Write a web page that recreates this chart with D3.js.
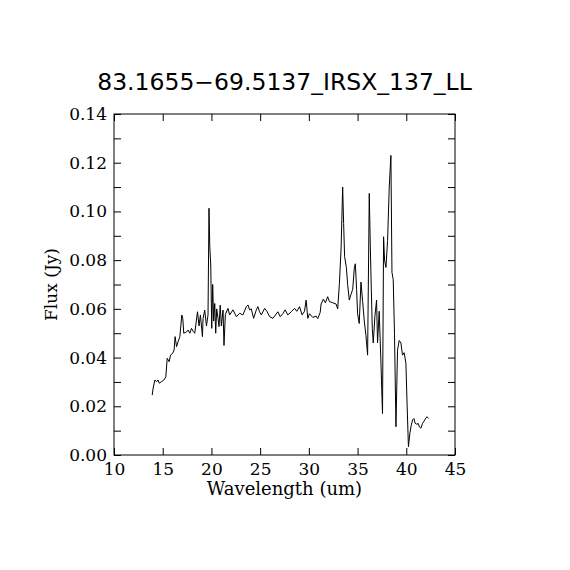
<!DOCTYPE html>
<html>
<head>
<meta charset="utf-8">
<script src="https://cdn.jsdelivr.net/npm/d3@7"></script>
<style>
  body { margin: 0; background: #fff; }
  svg { display: block; }
</style>
</head>
<body>
<div id="chart"></div>
<script>
// titre et étiquettes
const title = "83.1655\u221269.5137_IRSX_137_LL";
const xLabel = "Wavelength (um)";
const yLabel = "Flux (Jy)";

// graduations
const xTicks = [10, 15, 20, 25, 30, 35, 40, 45];
const yTicks = [0, 0.01, 0.02, 0.03, 0.04, 0.05, 0.06, 0.07, 0.08, 0.09, 0.10, 0.11, 0.12, 0.13, 0.14];
const yLabelled = [0, 0.02, 0.04, 0.06, 0.08, 0.10, 0.12, 0.14];

// spectre : longueur d'onde (um) et flux (Jy)
const wavelength = [
  13.92, 14.02, 14.20, 14.37, 14.53, 14.64, 14.88, 15.12, 15.32, 15.46,
  15.66, 15.80, 16.01, 16.17, 16.27, 16.42, 16.58, 16.76, 16.96, 17.06,
  17.16, 17.44, 17.61, 17.78, 17.95, 18.12, 18.29, 18.46, 18.57, 18.73,
  18.87, 19.08, 19.14, 19.31, 19.49, 19.65, 19.75, 19.83, 19.93, 20.03,
  20.13, 20.23, 20.34, 20.44, 20.54, 20.68, 20.78, 20.90, 21.02, 21.19,
  21.29, 21.43, 21.70, 21.87, 22.21, 22.56, 22.90, 23.23, 23.58, 23.75,
  23.92, 24.09, 24.33, 24.61, 24.77, 24.94, 25.12, 25.46, 25.69, 25.97,
  26.31, 26.58, 26.82, 27.06, 27.33, 27.57, 27.84, 28.19, 28.53, 28.76,
  29.04, 29.31, 29.55, 29.72, 29.89, 30.06, 30.40, 30.75, 30.91, 31.16,
  31.26, 31.49, 31.70, 31.93, 32.11, 32.45, 32.79, 32.96, 33.13, 33.31,
  33.47, 33.57, 33.67, 33.85, 33.98, 34.15, 34.33, 34.50, 34.67, 34.77,
  34.90, 35.00, 35.17, 35.35, 35.52, 35.69, 35.86, 36.03, 36.20, 36.31,
  36.41, 36.51, 36.61, 36.78, 36.95, 37.05, 37.22, 37.40, 37.56, 37.67,
  37.77, 37.91, 38.08, 38.25, 38.42, 38.53, 38.66, 38.79, 38.94, 39.10,
  39.27, 39.45, 39.61, 39.78, 39.96, 40.09, 40.22, 40.37, 40.50, 40.64,
  40.78, 40.91, 41.09, 41.22, 41.35, 41.50, 41.67, 41.84, 42.01, 42.14,
  42.27
];
const flux = [
  0.0246, 0.0275, 0.0308, 0.0301, 0.0308, 0.0295, 0.0301, 0.0308, 0.0321, 0.0397,
  0.0383, 0.0410, 0.0417, 0.0431, 0.0486, 0.0445, 0.0465, 0.0486, 0.0575, 0.0560,
  0.0500, 0.0505, 0.0513, 0.0500, 0.0520, 0.0508, 0.0500, 0.0554, 0.0588, 0.0530,
  0.0575, 0.0486, 0.0560, 0.0595, 0.0530, 0.0575, 0.1013, 0.0855, 0.0780, 0.0520,
  0.0700, 0.0550, 0.0622, 0.0500, 0.0600, 0.0560, 0.0527, 0.0615, 0.0530, 0.0595,
  0.0450, 0.0577, 0.0602, 0.0575, 0.0596, 0.0568, 0.0582, 0.0575, 0.0609, 0.0616,
  0.0596, 0.0600, 0.0561, 0.0596, 0.0609, 0.0588, 0.0575, 0.0602, 0.0590, 0.0568,
  0.0561, 0.0575, 0.0588, 0.0568, 0.0580, 0.0596, 0.0575, 0.0588, 0.0602, 0.0590,
  0.0609, 0.0575, 0.0590, 0.0636, 0.0561, 0.0580, 0.0565, 0.0570, 0.0560, 0.0585,
  0.0620, 0.0640, 0.0625, 0.0650, 0.0630, 0.0625, 0.0620, 0.0600, 0.0700, 0.0850,
  0.1100, 0.0950, 0.0814, 0.0770, 0.0700, 0.0636, 0.0660, 0.0680, 0.0770, 0.0785,
  0.0680, 0.0580, 0.0540, 0.0710, 0.0630, 0.0550, 0.0490, 0.0410, 0.1074, 0.0850,
  0.0680, 0.0520, 0.0460, 0.0570, 0.0636, 0.0460, 0.0590, 0.0377, 0.0170, 0.0896,
  0.0800, 0.0770, 0.0880, 0.1100, 0.1230, 0.0750, 0.0720, 0.0500, 0.0116, 0.0430,
  0.0470, 0.0460, 0.0410, 0.0420, 0.0377, 0.0198, 0.0034, 0.0090, 0.0120, 0.0144,
  0.0150, 0.0130, 0.0126, 0.0130, 0.0115, 0.0110, 0.0130, 0.0140, 0.0152, 0.0157,
  0.0150
];

function drawChart() {
    // dimensions
    const width = 570;
    const height = 570;
    const margin = { top: 114, right: 115, bottom: 115, left: 114 };
    const innerW = width - margin.left - margin.right;
    const innerH = height - margin.top - margin.bottom;
    const tickLen = 7;
    const serif = "'DejaVu Serif', 'Liberation Serif', serif";

    const data = wavelength.map((w, i) => ({ w: w, f: flux[i] }));

    const svg = d3.select("#chart")
        .append("svg")
        .attr("width", width)
        .attr("height", height);

    const g = svg.append("g")
        .attr("transform", `translate(${margin.left},${margin.top})`);

    // échelles
    const x = d3.scaleLinear().domain([10, 45]).range([0, innerW]);
    const y = d3.scaleLinear().domain([0, 0.14]).range([innerH, 0]);

    // axes (graduations vers l'intérieur sur les quatre côtés)
    const bottom = g.append("g")
        .attr("transform", `translate(0,${innerH})`)
        .call(d3.axisBottom(x).tickValues(xTicks).tickSize(-tickLen).tickPadding(8).tickFormat(d3.format("d")));
    const top = g.append("g")
        .call(d3.axisTop(x).tickValues(xTicks).tickSize(-tickLen).tickFormat(""));
    const left = g.append("g")
        .call(d3.axisLeft(y).tickValues(yTicks).tickSize(-tickLen).tickPadding(7)
            .tickFormat(d => yLabelled.some(v => Math.abs(v - d) < 1e-9) ? d3.format(".2f")(d) : ""));
    const right = g.append("g")
        .attr("transform", `translate(${innerW},0)`)
        .call(d3.axisRight(y).tickValues(yTicks).tickSize(-tickLen).tickFormat(""));

    [bottom, top, left, right].forEach(ax => {
        ax.select(".domain").remove();
        ax.selectAll(".tick line").attr("stroke", "#000").attr("stroke-width", 1);
        ax.selectAll("text")
            .attr("fill", "#000")
            .style("font-family", serif)
            .style("font-size", "17px");
    });

    // cadre
    g.append("rect")
        .attr("x", 0)
        .attr("y", 0)
        .attr("width", innerW)
        .attr("height", innerH)
        .attr("fill", "none")
        .attr("stroke", "#000")
        .attr("stroke-width", 1);

    // spectre
    const line = d3.line()
        .x(d => x(d.w))
        .y(d => y(d.f));

    g.append("path")
        .datum(data)
        .attr("d", line)
        .attr("fill", "none")
        .attr("stroke", "#000")
        .attr("stroke-width", 1);

    // titre
    svg.append("text")
        .attr("x", margin.left + innerW / 2)
        .attr("y", 90)
        .attr("text-anchor", "middle")
        .style("font-family", "'DejaVu Sans', sans-serif")
        .style("font-size", "23.5px")
        .text(title);

    // étiquettes des axes
    svg.append("text")
        .attr("x", margin.left + innerW / 2)
        .attr("y", 495)
        .attr("text-anchor", "middle")
        .style("font-family", serif)
        .style("font-size", "18px")
        .text(xLabel);

    svg.append("text")
        .attr("transform", `translate(57,${margin.top + innerH / 2}) rotate(-90)`)
        .attr("text-anchor", "middle")
        .style("font-family", serif)
        .style("font-size", "17px")
        .text(yLabel);
}

drawChart();
</script>
</body>
</html>
